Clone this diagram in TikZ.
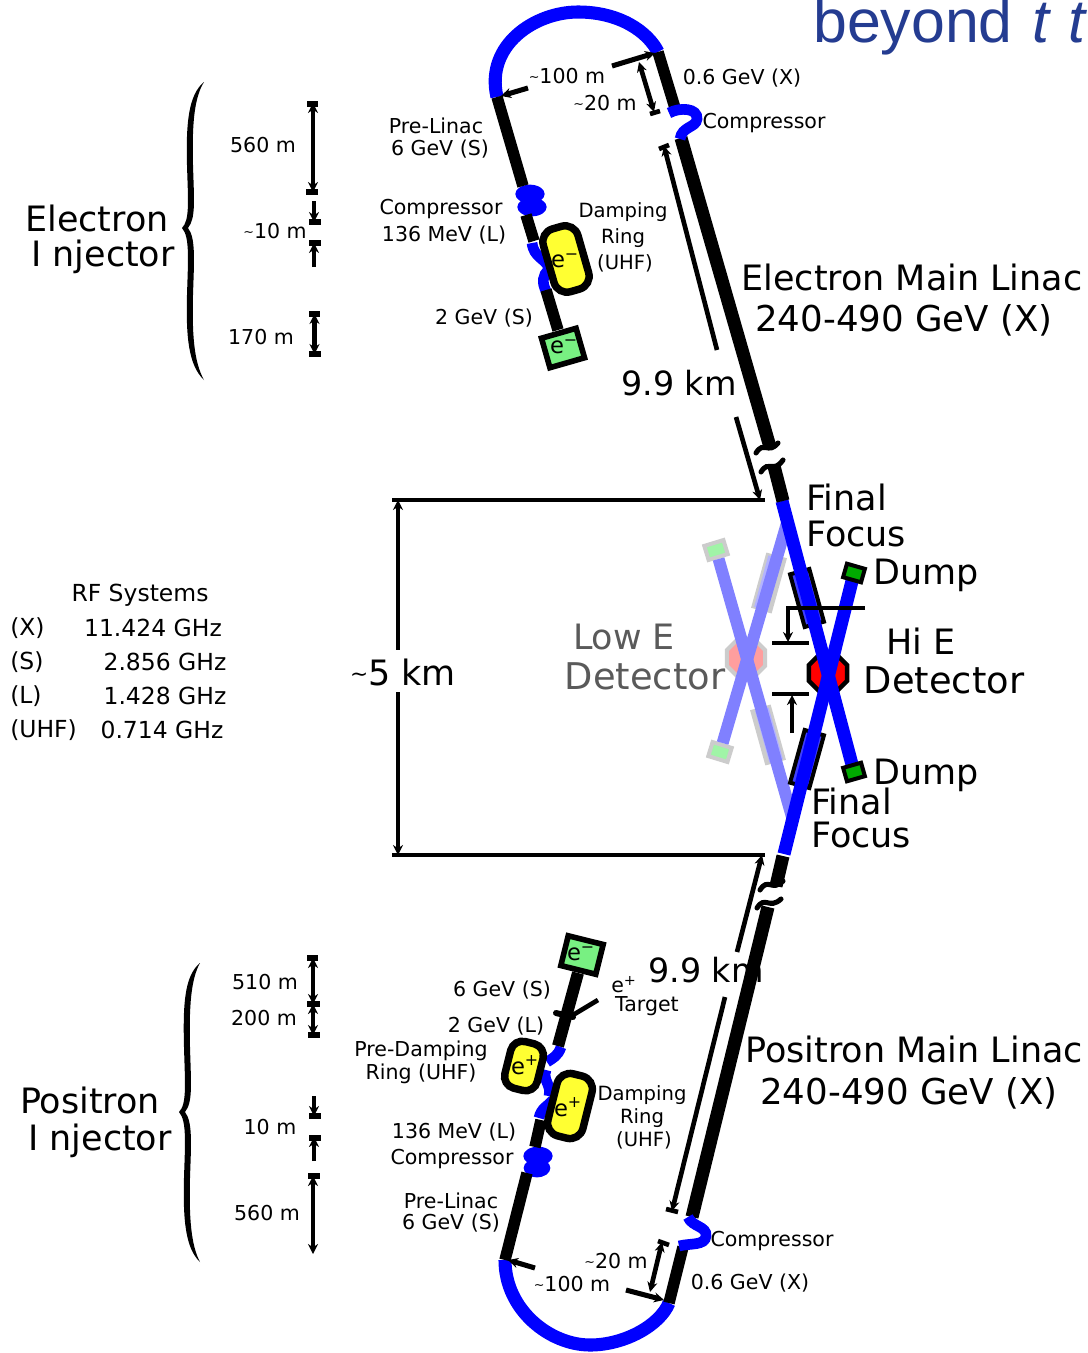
\documentclass[tikz,border=0pt]{standalone}
\usepackage{fontspec}
\setmainfont{DejaVu Sans}
\newfontfamily\titlefont{Liberation Sans}
\usetikzlibrary{arrows.meta,shapes.geometric}
\definecolor{beamblue}{RGB}{0,0,255}
\definecolor{lowblue}{RGB}{128,128,255}
\definecolor{titleblue}{RGB}{36,60,145}
\definecolor{dumpgreen}{RGB}{0,170,0}
\definecolor{srcgreen}{RGB}{120,240,130}
\definecolor{ringyellow}{RGB}{255,255,50}
\definecolor{lowgrey}{RGB}{204,204,204}
\definecolor{lowtext}{RGB}{90,90,90}
\newcommand\tld{\raisebox{0.1em}{\scalebox{0.62}{\char`\~}}}
\tikzset{
  small/.style={font=\fontsize{15.4}{18}\selectfont,inner sep=0pt,yshift=-1pt},
  narrow/.style={font=\fontsize{14.7}{18}\selectfont,inner sep=0pt,yshift=-1pt},
  rfsys/.style={font=\fontsize{17.6}{20}\selectfont,inner sep=0pt},
  big/.style={font=\fontsize{26.2}{30}\selectfont,inner sep=0pt},
  bigger/.style={font=\fontsize{27.6}{30}\selectfont,inner sep=0pt},
  inring/.style={font=\fontsize{17}{20}\selectfont,inner sep=0pt},
  blk/.style={line width=8.6pt,black},
  mainlin/.style={line width=9.8pt,black},
  blu/.style={line width=9.8pt,beamblue},
  lnk/.style={line width=8pt,beamblue},
  lowb/.style={line width=9pt,lowblue},
  bar/.style={line width=3.5pt,black},
  bart/.style={line width=3.8pt,black},
  arr/.style={line width=3.5pt,black,-{Stealth[length=7.5pt,width=7.5pt]}},
  arrb/.style={line width=3.5pt,black,{Stealth[length=7.5pt,width=7.5pt]}-{Stealth[length=7.5pt,width=7.5pt]}},
  ring/.style={draw=black,line width=5.6pt,fill=ringyellow,rounded corners=10pt,inner sep=0pt},
  source/.style={draw=black,line width=4.2pt,fill=srcgreen,inner sep=0pt,minimum width=27pt,minimum height=23pt},
  dump/.style={draw=black,line width=3pt,fill=dumpgreen,inner sep=0pt,minimum width=14pt,minimum height=10.5pt},
  lowdump/.style={draw=lowgrey,line width=3pt,fill=srcgreen!70!white,inner sep=0pt,minimum width=15pt,minimum height=11pt},
  magnet/.style={draw=black,line width=3pt,fill=beamblue!75!white,inner sep=0pt,minimum width=41pt,minimum height=15pt},
  lowmagnet/.style={fill=lowgrey,inner sep=0pt,minimum width=43pt,minimum height=16pt},
  lowinner/.style={fill=lowblue!60!white,inner sep=0pt,minimum width=40pt,minimum height=10.5pt},
  squig/.style={line width=3.8pt,black,line cap=round},
  brace/.style={fill=black,draw=none},
  blob/.style={ellipse,fill=beamblue,inner sep=0pt,minimum height=14pt},
}
\begin{document}
\begin{tikzpicture}[x=0.75pt,y=-0.75pt]
\useasboundingbox[fill=white] (0,0) rectangle (1088,1353);

% Low-energy line (drawn beneath)
\node[lowmagnet,rotate=74.5] (lmA) at (769,583) {};
\node[lowmagnet,rotate=-74.5] (lmB) at (768,735) {};
\node[lowinner,rotate=74.5] (liA) at (768,583) {};
\node[lowinner,rotate=-74.5] (liB) at (769,735) {};
\node[regular polygon,regular polygon sides=8,draw=lowgrey,line width=3pt,fill=red!38!white,minimum size=31pt,inner sep=0pt] (lowdet) at (746,658) {};
\node[lowdump,rotate=17] (ldA) at (716,550) {};
\node[lowdump,rotate=-17] (ldB) at (720,752) {};
\coordinate (lbA) at (792,817); \coordinate (lbB) at (787,523);
\draw[lowb] (ldA) -- (lbA);
\draw[lowb] (ldB) -- (lbB);

% Hi-energy detector and magnets
\node[regular polygon,regular polygon sides=8,draw=black,line width=3.4pt,fill=red,minimum size=31pt,inner sep=0pt] (hidet) at (828,673) {};
\node[magnet,rotate=-74.5] (ffA) at (807,598) {};
\node[magnet,rotate=74.5] (ffB) at (807,759) {};
\coordinate (uppStart) at (782,501); \coordinate (lowStart) at (784,854);
\coordinate (dumpA) at (854,573); \coordinate (dumpB) at (854,772);
\draw[blu] (uppStart) -- (dumpB);
\draw[blu] (lowStart) -- (dumpA);
\node[dump,rotate=-16] (dA) at (dumpA) {};
\node[dump,rotate=16] (dB) at (dumpB) {};

% Electron main linac
\coordinate (eMainTop) at (681,138); \coordinate (eMainBrk) at (770,447);
\coordinate (eMainB2) at (774,466); \coordinate (eMainEnd) at (783,501);
\draw[mainlin] (eMainTop) -- (eMainBrk);
\draw[mainlin] (eMainB2) -- (eMainEnd);
\draw[white,line width=7pt] (755,458) -- (785,450);
\draw[squig] (756,453) .. controls (764,440) and (768,455) .. (778,443);
\draw[squig] (761,472) .. controls (769,459) and (773,474) .. (783,460);

% Positron main linac
\coordinate (pMainTop) at (768,907); \coordinate (pMainBot) at (692,1217);
\coordinate (pMainT2) at (783,856); \coordinate (pMainT3) at (776,886);
\draw[mainlin] (pMainTop) -- (pMainBot);
\draw[mainlin] (pMainT2) -- (pMainT3);
\draw[squig] (760,890) .. controls (768,877) and (772,892) .. (783,881);
\draw[squig] (757,908) .. controls (765,895) and (769,910) .. (781,899);

% Electron injector line
\coordinate (eA1) at (658,52); \coordinate (eA2) at (675,108);
\coordinate (eB1) at (497,97); \coordinate (eB2) at (523,186);
\coordinate (eC1) at (526,215); \coordinate (eC2) at (534,241);
\coordinate (eD1) at (546,290); \coordinate (eD2) at (558,330);
\draw[blu] (eB1) .. controls (485,45) and (535,12) .. (578,12) .. controls (620,12) and (648,32) .. (eA1);
\draw[blk] (eA1) -- (eA2);
\draw[lnk] (669,113) .. controls (680,107) and (698,108) .. (697,119) .. controls (696,128) and (682,126) .. (680,139);
\node[blob,minimum width=22pt] (eBlobA) at (530,194) {};
\node[blob,minimum width=22pt] (eBlobB) at (532,207) {};
\draw[blk] (eB1) -- (eB2);
\draw[blk] (eC1) -- (eC2);
\draw[lnk] (532,243) .. controls (534,258) and (545,258) .. (549,268);
\draw[lnk] (549,270) .. controls (542,275) and (542,283) .. (546,291);
\draw[blk] (eD1) -- (eD2);
\node[ring,rotate=16,minimum width=27pt,minimum height=49pt] (eRing) at (566,259) {};
\node[source,rotate=16] (eSrc) at (563,348) {};
\node[inring] (eRingT) at (565,261) {e\textsuperscript{−}};
\node[inring] (eSrcT) at (564,347) {e\textsuperscript{−}};

% Positron injector line
\coordinate (pA1) at (669,1303); \coordinate (pA2) at (683,1247);
\coordinate (pB1) at (505,1260); \coordinate (pB2) at (527,1173);
\coordinate (pC1) at (535,1147); \coordinate (pC2) at (541,1120);
\coordinate (pD1) at (558,1046); \coordinate (pD2) at (578,973);
\draw[blu] (pB1) .. controls (505,1310) and (550,1345) .. (590,1345) .. controls (625,1345) and (660,1325) .. (pA1);
\draw[blk] (pA1) -- (pA2);
\draw[lnk] (688,1217) .. controls (692,1227) and (707,1226) .. (706,1236) .. controls (705,1246) and (690,1243) .. (679,1246);
\node[blob,minimum width=22pt] (pBlobA) at (538,1156) {};
\node[blob,minimum width=20pt] (pBlobB) at (537,1168) {};
\draw[blk] (pB1) -- (pB2);
\draw[blk] (pC1) -- (pC2);
\draw[lnk] (539,1118) .. controls (541,1108) and (548,1106) .. (553,1100);
\draw[lnk] (549,1096) .. controls (552,1085) and (542,1080) .. (546,1070);
\draw[lnk] (547,1062) .. controls (553,1058) and (558,1056) .. (561,1047);
\draw[blk,line width=9pt] (pD1) -- (pD2);
\node[ring,rotate=-14,minimum width=25pt,minimum height=36pt,rounded corners=9pt] (pRing1) at (524,1066) {};
\node[ring,rotate=-14,minimum width=27pt,minimum height=48pt] (pRing2) at (570,1106) {};
\node[source,rotate=-14] (pSrc) at (582,955) {};
\node[inring] (pRing1T) at (525,1065) {e\textsuperscript{+}};
\node[inring] (pRing2T) at (568,1107) {e\textsuperscript{+}};
\node[inring] (pSrcT) at (581,954) {e\textsuperscript{−}};
\coordinate (tgA) at (556,1013); \coordinate (tgB) at (573,1017); \coordinate (tgC) at (573,1015); \coordinate (tgD) at (598,1000);
\draw[line width=4.5pt,black,line cap=round] (tgA) -- (tgB);
\draw[bar] (tgC) -- (tgD);

% Right-hand dimension lines
\coordinate (d1) at (717,350); \coordinate (d2) at (664,146);
\draw[arr] (d1) -- (d2);
\draw[bar] (659,149) -- (669,145);
\coordinate (d3) at (736,417); \coordinate (d4) at (760,500);
\draw[arr] (d3) -- (d4);
\coordinate (d5) at (737,952); \coordinate (d6) at (762,855);
\draw[arr] (d5) -- (d6);
\coordinate (d7) at (725,997); \coordinate (d8) at (672,1211);
\draw[arr] (d7) -- (d8);
\draw[bar] (666,1209) -- (678,1212);
\coordinate (h1a) at (392,500); \coordinate (h1b) at (765,500);
\coordinate (h2a) at (392,855); \coordinate (h2b) at (765,855);
\draw[bar] (h1a) -- (h1b);
\draw[bar] (h2a) -- (h2b);
\coordinate (v1) at (398,500); \coordinate (v1e) at (398,650);
\coordinate (v2) at (398,692); \coordinate (v2e) at (398,855);
\draw[bar,{Stealth[length=7.5pt,width=7.5pt]}-] (v1) -- (v1e);
\draw[bar,-{Stealth[length=7.5pt,width=7.5pt]}] (v2) -- (v2e);

% Crossing-angle bars
\coordinate (xa) at (865,608); \coordinate (xb) at (788,608); \coordinate (xc) at (788,642);
\draw[bar,-{Stealth[length=7.5pt,width=7.5pt]}] (xa) -- (xb) -- (xc);
\draw[bar] (772,643) -- (809,643);
\draw[bar] (772,694) -- (809,694);
\coordinate (ya) at (792,733); \coordinate (yb) at (792,695);
\draw[arr] (ya) -- (yb);

% Top dimensions
\coordinate (t1) at (612,66); \coordinate (t2) at (655,53);
\draw[arr,line width=3.8pt] (t1) -- (t2);
\coordinate (t3) at (639,62); \coordinate (t4) at (654,112);
\draw[arrb] (t3) -- (t4);
\draw[bar] (650,114) -- (660,111);
\coordinate (t5) at (528,88); \coordinate (t6) at (501,96);
\draw[arr,line width=3.8pt] (t5) -- (t6);

% Bottom dimensions
\coordinate (b1) at (626,1290); \coordinate (b2) at (664,1300);
\draw[arr,line width=3.8pt] (b1) -- (b2);
\coordinate (b3) at (650,1292); \coordinate (b4) at (662,1242);
\draw[arrb] (b3) -- (b4);
\draw[bar] (658,1241) -- (669,1245);
\coordinate (b5) at (535,1268); \coordinate (b6) at (508,1260);
\draw[arr,line width=3.8pt] (b5) -- (b6);

% Left scale: electron
\coordinate (s1) at (313,103); \coordinate (s2) at (313,192);
\draw[arrb] (s1) -- (s2);
\draw[bart] (307,104) -- (318,104);
\draw[bart] (306,192) -- (318,192);
\coordinate (s3) at (314,201); \coordinate (s4) at (314,222);
\draw[arr] (s3) -- (s4);
\draw[bart] (309,222) -- (321,222);
\coordinate (s5) at (314,267); \coordinate (s6) at (314,243);
\draw[arr] (s5) -- (s6);
\draw[bart] (309,243) -- (321,243);
\coordinate (s7) at (314.5,314); \coordinate (s8) at (314.5,354);
\draw[arrb] (s7) -- (s8);
\draw[bart] (309,314) -- (320,314);
\draw[bart] (309,354) -- (321,354);

% Left scale: positron
\coordinate (r1) at (313,958); \coordinate (r2) at (313,1004); \coordinate (r3) at (313,1035);
\draw[arrb] (r1) -- (r2);
\draw[arrb] (r2) -- (r3);
\draw[bart] (307,958) -- (318,958);
\draw[bart] (307,1004) -- (320,1004);
\draw[bart] (308,1035) -- (320,1035);
\coordinate (r4) at (314,1096); \coordinate (r5) at (314,1116);
\draw[arr] (r4) -- (r5);
\draw[bart] (309,1116) -- (321,1116);
\coordinate (r6) at (314,1161); \coordinate (r7) at (314,1137);
\draw[arr] (r6) -- (r7);
\draw[bart] (309,1138) -- (321,1138);
\coordinate (r8) at (313,1176); \coordinate (r9) at (313,1254);
\draw[arrb] (r8) -- (r9);
\draw[bart] (308,1176) -- (320,1176);

% Braces
\fill[brace] (204,82) .. controls (188,95) and (186,125) .. (187,165) .. controls (188,200) and (190,220) .. (182,228) .. controls (190,237) and (188,260) .. (187,295) .. controls (186,335) and (188,365) .. (204,380) .. controls (194,362) and (192,335) .. (193,295) .. controls (194,262) and (196,238) .. (188,228) .. controls (196,218) and (194,200) .. (193,165) .. controls (192,125) and (194,98) .. (204,82) -- cycle;
\fill[brace] (200,963) .. controls (184,976) and (183,1006) .. (184,1047) .. controls (185,1084) and (187,1104) .. (179,1112) .. controls (187,1121) and (185,1144) .. (184,1178) .. controls (183,1218) and (185,1248) .. (200,1262) .. controls (191,1245) and (189,1218) .. (190,1178) .. controls (191,1146) and (193,1122) .. (185,1112) .. controls (193,1102) and (191,1084) .. (190,1047) .. controls (189,1006) and (191,979) .. (200,963) -- cycle;

% Title
\node[font=\titlefont\fontsize{45.6}{50}\selectfont,text=titleblue,anchor=base west,inner sep=0pt] (title) at (813,42) {beyond\hspace{0.05em} \textit{t} \textit{t}};

% Text: left
\node[small] (tx560) at (263,144) {560 m};
\node[small] (tx10a) at (275,230) {\tld 10 m};
\node[small] (tx170) at (261,336) {170 m};
\node[big] (txEl) at (97,218) {Electron};
\node[big] (txElI) at (103,257) {I njector};
\node[rfsys] (txRF) at (140,595) {RF Systems};
\node[rfsys,anchor=west] (txX) at (10,628) {(X)};
\node[rfsys] (txXf) at (153,628) {11.424 GHz};
\node[rfsys,anchor=west] (txS) at (10,662) {(S)};
\node[rfsys] (txSf) at (165,662) {2.856 GHz};
\node[rfsys,anchor=west] (txL) at (10,696) {(L)};
\node[rfsys] (txLf) at (165,696) {1.428 GHz};
\node[rfsys,anchor=west] (txU) at (10,730) {(UHF)};
\node[rfsys] (txUf) at (162,730) {0.714 GHz};
\node[small] (tx510) at (265,981) {510 m};
\node[small] (tx200) at (264,1017) {200 m};
\node[small] (tx10b) at (270,1126) {10 m};
\node[small] (tx560b) at (267,1212) {560 m};
\node[big] (txPo) at (90,1100) {Positron};
\node[big] (txPoI) at (100,1141) {I njector};

% Text: electron side
\node[small] (t01) at (436,125) {Pre-Linac};
\node[small] (t02) at (440,148) {6 GeV (S)};
\node[small] (t03) at (441,208) {Compressor};
\node[small] (t04) at (444,234) {136 MeV (L)};
\node[narrow] (t05) at (623,211) {Damping};
\node[narrow] (t06) at (623,237) {Ring};
\node[narrow] (t07) at (625,262) {(UHF)};
\node[small] (t08) at (484,317) {2 GeV (S)};
\node[small] (t09) at (742,77) {0.6 GeV (X)};
\node[small] (t10) at (764,122) {Compressor};
\node[small] (t11) at (567,75) {\tld 100 m};
\node[small] (t12) at (605,102) {\tld 20 m};
\node[big] (t13) at (912,277) {Electron Main Linac};
\node[big,font=\fontsize{26.7}{30}\selectfont] (t14) at (904,320) {240-490 GeV (X)};
\node[font=\fontsize{25}{30}\selectfont,inner sep=0pt] (t15) at (679,383) {9.9 km};

% Text: centre
\node[big] (t20) at (403,672) {\tld 5 km};
\node[big,anchor=west] (t21) at (806,497) {Final};
\node[big,anchor=west] (t22) at (806,534) {Focus};
\node[big,anchor=west] (t23) at (873,575) {Dump};
\node[big] (t24) at (921,641) {Hi E};
\node[bigger] (t25) at (944,680) {Detector};
\node[big,anchor=west] (t26) at (873,775) {Dump};
\node[big,anchor=west] (t27) at (811,801) {Final};
\node[big,anchor=west] (t28) at (811,835) {Focus};
\node[big,text=lowtext] (t29) at (624,637) {Low E};
\node[bigger,text=lowtext] (t30) at (645,676) {Detector};

% Text: positron side
\node[small] (t40) at (502,989) {6 GeV (S)};
\node[small] (t41) at (496,1025) {2 GeV (L)};
\node[small,anchor=west] (t42) at (611,983) {e\textsuperscript{+}};
\node[small] (t43) at (647,1005) {Target};
\node[small] (t44) at (421,1049) {Pre-Damping};
\node[small] (t45) at (421,1072) {Ring (UHF)};
\node[narrow] (t46) at (642,1094) {Damping};
\node[narrow] (t47) at (642,1117) {Ring};
\node[narrow] (t48) at (644,1139) {(UHF)};
\node[small] (t49) at (454,1131) {136 MeV (L)};
\node[small] (t50) at (452,1158) {Compressor};
\node[small] (t51) at (451,1199) {Pre-Linac};
\node[small] (t52) at (451,1222) {6 GeV (S)};
\node[small] (t53) at (772,1240) {Compressor};
\node[small] (t54) at (616,1260) {\tld 20 m};
\node[small] (t55) at (572,1283) {\tld 100 m};
\node[small] (t56) at (750,1282) {0.6 GeV (X)};
\node[big] (t57) at (914,1049) {Positron Main Linac};
\node[big,font=\fontsize{26.7}{30}\selectfont] (t58) at (909,1093) {240-490 GeV (X)};
\node[font=\fontsize{25}{30}\selectfont,inner sep=0pt] (t59) at (706,970) {9.9 km};
\end{tikzpicture}
\end{document}
